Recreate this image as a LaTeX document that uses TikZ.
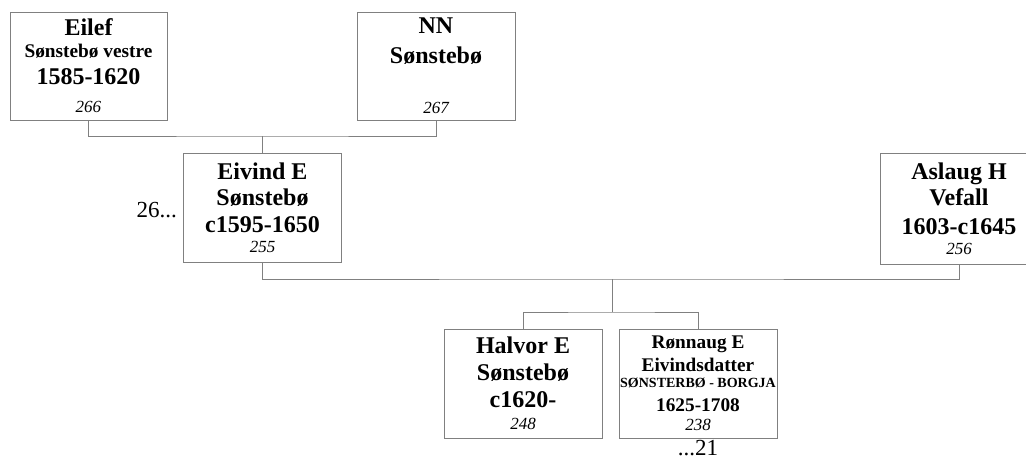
\documentclass[tikz,border=0pt]{standalone}
\usepackage{fontspec}
\setmainfont{Liberation Serif}
\usetikzlibrary{positioning}

\definecolor{boxline}{RGB}{128,128,128}
\newcommand{\pname}{\fontsize{24}{27}\selectfont\bfseries}
\newcommand{\pmid}{\fontsize{19.3}{27}\selectfont\bfseries}
\newcommand{\psmall}{\fontsize{14}{27}\selectfont\bfseries}
\newcommand{\pnum}{\fontsize{17}{27}\selectfont\mdseries\itshape}
\newcommand{\pmore}{\fontsize{23}{27}\selectfont}

\tikzset{
  person/.style={draw=boxline, line width=1pt, fill=white, minimum width=158pt,
    minimum height=109pt, align=center, inner sep=0pt,
    font=\fontsize{24}{27}\selectfont\bfseries},
  famline/.style={draw=boxline, line width=1pt},
}

\begin{document}
\begin{tikzpicture}[x=1pt, y=1pt, line join=miter]
    \useasboundingbox (0,0) rectangle (1026,-461);

    % grandparents
    \node[person, minimum width=157pt, minimum height=108pt] (eilef) at (88.5,-66)
        {\pname Eilef\\[-5pt]\pmid Sønstebø vestre\\\pname 1585-1620\\[1pt]\pnum 266};
    \node[person, minimum width=158pt, minimum height=108pt] (nn) at (436,-66)
        {\pname NN\\[3pt]\pname Sønstebø\\\pname ~\\[-4pt]\pnum 267};

    % parents
    \node[person] (eivind) at (262.5,-207.5)
        {\pname Eivind E\\[-1pt]\pname Sønstebø\\\pname c1595-1650\\[-7pt]\pnum 255};
    \node[person, minimum height=111pt] (aslaug) at (959,-208.5)
        {\pname Aslaug H\\[-1pt]\pname Vefall\\[2pt]\pname 1603-c1645\\[-7pt]\pnum 256};
    \node[left=6pt of eivind, yshift=-3pt, inner sep=0pt] (more26) {\pmore 26...};

    % children
    \node[person] (halvor) at (523,-383.5)
        {\pname Halvor E\\\pname Sønstebø\\\pname c1620-\\[-5pt]\pnum 248};
    \node[person] (ronnaug) at (698,-383.5)
        {\pmid Rønnaug E\\[-4pt]\pmid Eivindsdatter\\[-11pt]\psmall SØNSTERBØ - BORGJA\\[-3pt]\pmid 1625-1708\\[-8pt]\pnum 238};
    \node[below=2pt of ronnaug, inner sep=0pt] (more21) {\pmore ...21};

    % family lines
    \coordinate (join1) at (eivind.north |- 0,-136);
    \coordinate (join2) at (612,-279);
    \coordinate (join3) at (612,-312);
    \draw[famline] (eilef.south) |- (join1) -| (nn.south);
    \draw[famline] (join1) -- (eivind.north);
    \draw[famline] (eivind.south) |- (join2) -| (aslaug.south);
    \draw[famline] (join2) -- (join3);
    \draw[famline] (halvor.north) |- (join3) -| (ronnaug.north);
\end{tikzpicture}
\end{document}
